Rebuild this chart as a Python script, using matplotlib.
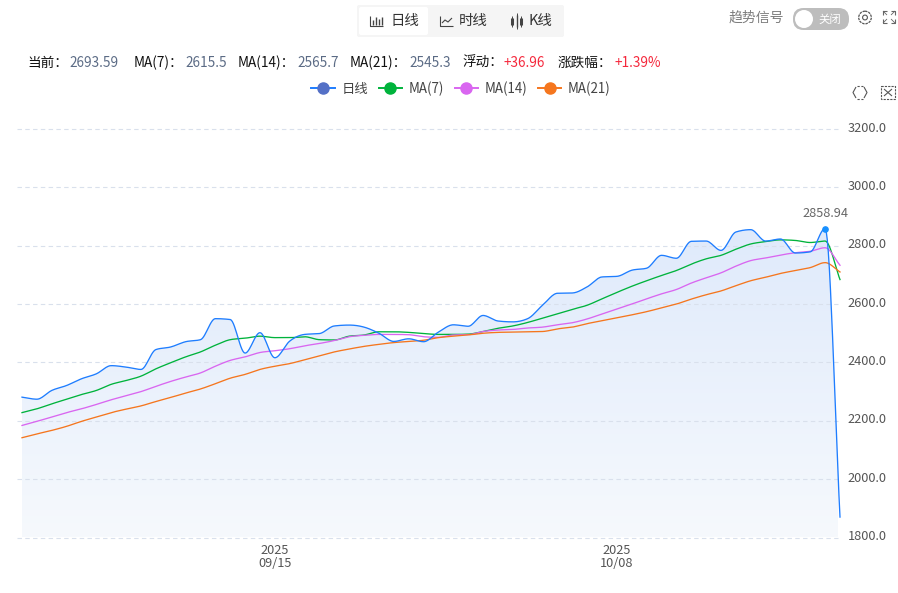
import numpy as np
import pandas as pd
import matplotlib
matplotlib.use("Agg")
import matplotlib.pyplot as plt
from matplotlib.lines import Line2D
from matplotlib.patches import FancyBboxPatch, Circle, Rectangle
from matplotlib.colors import LinearSegmentedColormap
from matplotlib.transforms import ScaledTranslation

plt.rcParams['font.family'] = ['Noto Sans CJK SC', 'DejaVu Sans']

# --------------------------------------------------
# Data
# --------------------------------------------------
dates = pd.date_range("2025-08-29", "2025-10-23", freq="D")

daily = [2281, 2274, 2304, 2321, 2344, 2361, 2389, 2384, 2376, 2444,
         2453, 2471, 2478, 2550, 2547, 2432, 2502, 2416, 2473, 2496,
         2499, 2525, 2528, 2521, 2500, 2472, 2481, 2471, 2504, 2529,
         2524, 2561, 2542, 2539, 2550, 2596, 2637, 2638, 2659, 2693,
         2695, 2716, 2723, 2767, 2757, 2815, 2816, 2784, 2847, 2855,
         2816, 2823, 2775, 2779, 2858.94, 1870]
ma7 = [2228, 2241, 2258, 2274, 2290, 2304, 2325, 2338, 2353, 2378,
       2399, 2419, 2436, 2459, 2478, 2483, 2490, 2485, 2485, 2488,
       2478, 2477, 2490, 2494, 2505, 2505, 2503, 2499, 2496, 2496,
       2497, 2506, 2517, 2525, 2537, 2552, 2567, 2582, 2596, 2618,
       2640, 2661, 2680, 2698, 2715, 2737, 2755, 2767, 2788, 2806,
       2814, 2820, 2818, 2811, 2816, 2684]
ma14 = [2184, 2198, 2213, 2228, 2241, 2256, 2272, 2286, 2300, 2318,
        2335, 2350, 2364, 2387, 2407, 2419, 2434, 2440, 2447, 2457,
        2465, 2475, 2488, 2493, 2496, 2496, 2495, 2488, 2486, 2494,
        2495, 2506, 2511, 2513, 2518, 2521, 2529, 2536, 2549, 2566,
        2583, 2600, 2618, 2635, 2650, 2672, 2690, 2707, 2730, 2749,
        2758, 2768, 2776, 2781, 2793, 2733]
ma21 = [2142, 2155, 2167, 2181, 2198, 2213, 2228, 2240, 2251, 2266,
        2280, 2295, 2309, 2327, 2346, 2359, 2376, 2387, 2396, 2409,
        2423, 2436, 2446, 2455, 2462, 2468, 2472, 2476, 2485, 2490,
        2494, 2500, 2503, 2504, 2505, 2506, 2515, 2521, 2533, 2543,
        2553, 2563, 2574, 2587, 2600, 2617, 2632, 2645, 2663, 2680,
        2692, 2705, 2715, 2725, 2742, 2710]

y_ticks = [1800, 2000, 2200, 2400, 2600, 2800, 3000, 3200]
x_tick_dates = ["2025-09-15", "2025-10-08"]

series_names = ["日线", "MA(7)", "MA(14)", "MA(21)"]
series_colors = ["#1e7dff", "#00b33c", "#d966f0", "#f5761e"]
marker_colors = ["#5470c6", "#00b33c", "#d966f0", "#f5761e"]


def smooth(values, n=14):
    # hermite curve with flat tangents at turning points
    y = np.asarray(values, dtype=float)
    m = np.zeros(len(y))
    for i in range(1, len(y) - 1):
        a, b = y[i] - y[i - 1], y[i + 1] - y[i]
        if a * b > 0:
            m[i] = np.sign(a) * min(abs(a + b) / 2, 2 * abs(a), 2 * abs(b))
    m[0] = y[1] - y[0]
    m[-1] = y[-1] - y[-2]
    xs, ys = [], []
    for i in range(len(y) - 1):
        t = np.linspace(0, 1, n, endpoint=False)
        ys.append((2*t**3 - 3*t**2 + 1) * y[i] + (t**3 - 2*t**2 + t) * m[i]
                  + (-2*t**3 + 3*t**2) * y[i + 1] + (t**3 - t**2) * m[i + 1])
        xs.append(i + t)
    return np.append(np.concatenate(xs), len(y) - 1), np.append(np.concatenate(ys), y[-1])


W, H = 898, 593
fig = plt.figure(figsize=(W / 100, H / 100), dpi=100)

# --------------------------------------------------
# Main chart
# --------------------------------------------------
left, right = 17, 838
top, bottom = 129, 537.5
ax = fig.add_axes([left / W, 1 - bottom / H, (right - left) / W, (bottom - top) / H])
step = (840 - 22) / (len(dates) - 1)
ax.patch.set_alpha(0)
for s in ax.spines.values():
    s.set_visible(False)

sx, sy = smooth(daily)
cmap = LinearSegmentedColormap.from_list("fill", ["#f6f9fd", "#dfeafb"])
grad = ax.imshow(np.linspace(1, 0, 256).reshape(-1, 1), cmap=cmap, aspect="auto",
                 extent=[0, len(dates) - 1, 1800, max(daily)], zorder=1)
poly = ax.fill_between(sx, 1800, sy, color="none")
grad.set_clip_path(poly.get_paths()[0], ax.transData)
ax.set_xlim((left - 22) / step, (right - 22) / step)
ax.set_ylim(1800, 3200)

ax.set_axisbelow(False)
ax.yaxis.tick_right()
ax.set_yticks(y_ticks)
ax.set_yticklabels([f"{v:.1f}" for v in y_ticks])
ax.grid(axis="y", color="#d9e0ec", linestyle=(0, (4, 3)), linewidth=0.8, zorder=2)
for gl in ax.get_ygridlines():
    gl.set_clip_on(False)
ax.tick_params(axis="y", length=0, pad=7, labelsize=9.2, labelcolor="#555555")
for lab in ax.get_yticklabels():
    lab.set_transform(lab.get_transform() + ScaledTranslation(0, 1.8 / 72, fig.dpi_scale_trans))

tick_pos = [dates.get_loc(pd.Timestamp(d)) for d in x_tick_dates]
ax.set_xticks(tick_pos)
ax.set_xticklabels([pd.Timestamp(d).strftime("%Y\n%m/%d") for d in x_tick_dates], linespacing=0.92)
ax.tick_params(axis="x", length=0, pad=5, labelsize=9.2, labelcolor="#555555")

for vals, c, z in zip([daily, ma7, ma14, ma21], series_colors, [5, 4, 4, 4]):
    lx, ly = smooth(vals)
    ax.plot(lx, ly, color=c, linewidth=0.95, clip_on=False, zorder=z)

# highest point label
peak = int(np.argmax(daily))
ax.plot(peak, daily[peak], "o", color="#1890ff", markersize=3.8, zorder=6, clip_on=False)
ax.annotate(f"{daily[peak]:.2f}", (peak, daily[peak]), xytext=(0, 6), textcoords="offset points",
            ha="center", va="bottom", fontsize=9.2, color="#666666")

handles = [Line2D([], [], color=c, marker="o", markerfacecolor=m, markeredgecolor=m,
                  markersize=8, linewidth=1.4)
           for c, m in zip(series_colors, marker_colors)]
fig.legend(handles, series_names, loc="center", bbox_to_anchor=(461 / W, 1 - 88.5 / H), ncol=4,
           frameon=False, fontsize=9.6, labelcolor="#444444", handlelength=1.75,
           handletextpad=0.5, columnspacing=0.8)

# --------------------------------------------------
# Toolbar and info row, placed in pixels
# --------------------------------------------------
ui = fig.add_axes([0, 0, 1, 1], zorder=10)
ui.set_xlim(0, W)
ui.set_ylim(H, 0)
ui.axis("off")


def box(x, y, w, h, color, r=2):
    ui.add_patch(FancyBboxPatch((x + r, y + r), w - 2 * r, h - 2 * r, boxstyle=f"round,pad={r}",
                                facecolor=color, edgecolor="none"))


def stroke(xs, ys, color="#444444", lw=0.8, **kw):
    ui.plot(xs, ys, color=color, linewidth=lw, solid_capstyle="butt", **kw)


box(357, 5, 207, 32, "#f5f5f5")
box(359, 7, 69, 28, "#ffffff")
for txt, x in zip(["日线", "时线", "K线"], [390, 459, 529]):
    ui.text(x, 21, txt, fontsize=10.4, color="#333333", va="center")

# chart type icons
stroke([370, 370, 383], [16, 26, 26])
for x, h in zip([373, 376, 379, 381.5], [5, 8, 6, 8]):
    stroke([x, x], [25, 25 - h], lw=1)
stroke([440, 440, 453], [16, 26, 26])
stroke([442, 445, 448, 452], [23, 20, 22, 18])
for x, a, b in zip([512, 516.5, 521], [18, 15, 18], [25, 27, 25]):
    stroke([x, x], [a, b], lw=2.2 if x != 516.5 else 1)
    stroke([x, x], [a - 2, b + 2], lw=0.7)

# signal switch
ui.text(729, 18, "趋势信号", fontsize=10, color="#7d7d7d", va="center")
box(793, 8, 56, 22, "#bdbdbd", r=10.5)
ui.add_patch(Circle((804, 19), 9, facecolor="#ffffff", edgecolor="none"))
ui.text(818, 19.5, "关闭", fontsize=8.2, color="#ffffff", va="center")

# gear and corner icons
ui.add_patch(Circle((865, 17.5), 6.3, facecolor="none", edgecolor="#555555", linewidth=0.9,
                    linestyle=(0, (2, 0.7))))
ui.add_patch(Circle((865, 17.5), 2.4, facecolor="none", edgecolor="#555555", linewidth=0.8))
for sx_, sy_ in [(-1, -1), (1, -1), (-1, 1), (1, 1)]:
    cx, cy = 889 + sx_ * 6, 17 + sy_ * 6
    stroke([cx, cx, cx - sx_ * 4], [cy - sy_ * 4, cy, cy], color="#666666")
    stroke([cx, cx - sx_ * 4], [cy, cy - sy_ * 4], color="#666666", lw=0.6)
# zoom and reset icons
stroke([856, 853, 856], [87, 92.5, 98], color="#555555")
stroke([864, 867, 864], [87, 92.5, 98], color="#555555")
stroke([857, 863], [85.5, 85.5], color="#555555", linestyle=(0, (2, 1.5)))
stroke([857, 863], [99, 99], color="#555555", linestyle=(0, (2, 1.5)))
ui.add_patch(Rectangle((881, 86), 14, 13, facecolor="none", edgecolor="#555555", linewidth=0.8,
                       linestyle=(0, (2, 1))))
stroke([884, 892], [89, 96], color="#555555")
stroke([884, 892], [96, 89], color="#555555")

# info row
info = [("当前\uff1a", 27, "#111111"), ("2693.59", 69, "#5b6b85"),
        ("MA(7)\uff1a", 134, "#111111"), ("2615.5", 185, "#5b6b85"),
        ("MA(14)\uff1a", 238, "#111111"), ("2565.7", 297, "#5b6b85"),
        ("MA(21)\uff1a", 350, "#111111"), ("2545.3", 409, "#5b6b85"),
        ("浮动\uff1a", 462, "#111111"), ("+36.96", 504, "#f5283c"),
        ("涨跌幅\uff1a", 558, "#111111"), ("+1.39%", 615, "#f5283c")]
for txt, x, c in info:
    ui.text(x, 63, txt, fontsize=9.8, color=c, va="center")

fig.savefig("out.png", dpi=100)
